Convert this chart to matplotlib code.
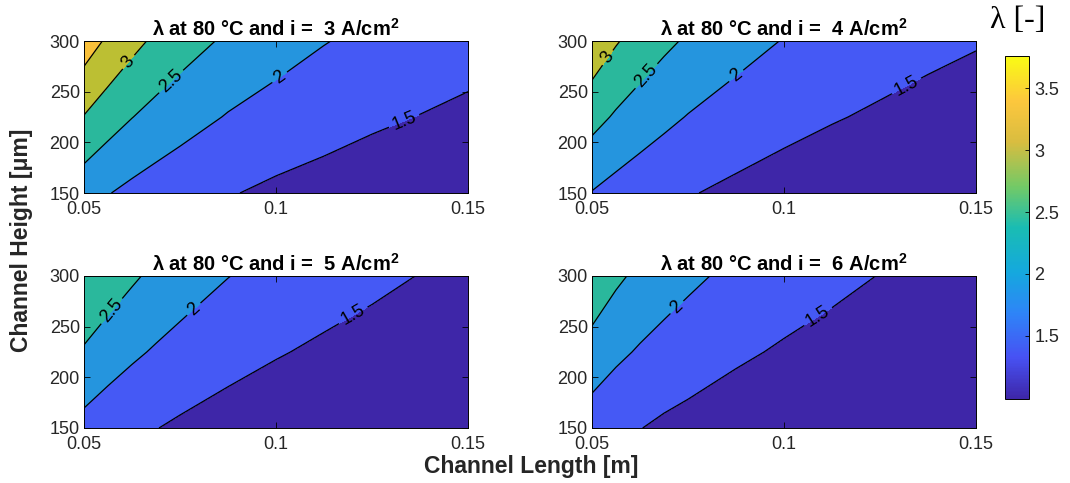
import numpy as np
import matplotlib
matplotlib.use("Agg")
import matplotlib.pyplot as plt
from matplotlib.colors import LinearSegmentedColormap, Normalize
from matplotlib.cm import ScalarMappable

plt.rcParams['font.family'] = ['Liberation Sans', 'DejaVu Sans']
plt.rcParams['mathtext.fontset'] = 'custom'
plt.rcParams['mathtext.rm'] = 'Liberation Sans'
plt.rcParams['mathtext.bf'] = 'Liberation Sans:bold'

# grid
lengths = [0.05, 0.05625, 0.0625, 0.06875, 0.075, 0.0875, 0.1, 0.1125,
           0.125, 0.1375, 0.15]                                # m
heights = [150, 225, 300]                                      # um

# lambda values, rows = heights
lam_i3 = [[2.20, 2.02, 1.88, 1.77, 1.68, 1.53, 1.41, 1.33, 1.26, 1.20, 1.15],
          [2.98, 2.72, 2.51, 2.34, 2.20, 1.97, 1.81, 1.68, 1.57, 1.49, 1.41],
          [3.76, 3.42, 3.14, 2.91, 2.72, 2.42, 2.20, 2.02, 1.88, 1.77, 1.68]]
lam_i4 = [[1.98, 1.83, 1.71, 1.61, 1.53, 1.40, 1.30, 1.22, 1.16, 1.11, 1.07],
          [2.67, 2.44, 2.26, 2.11, 1.98, 1.79, 1.64, 1.53, 1.44, 1.36, 1.30],
          [3.35, 3.04, 2.80, 2.60, 2.44, 2.18, 1.98, 1.83, 1.71, 1.61, 1.53]]
lam_i5 = [[1.84, 1.70, 1.59, 1.51, 1.43, 1.31, 1.23, 1.16, 1.10, 1.06, 1.02],
          [2.45, 2.24, 2.08, 1.95, 1.84, 1.66, 1.53, 1.43, 1.35, 1.28, 1.23],
          [2.98, 2.78, 2.57, 2.39, 2.24, 2.01, 1.84, 1.70, 1.59, 1.49, 1.43]]
lam_i6 = [[1.73, 1.60, 1.51, 1.42, 1.36, 1.25, 1.17, 1.11, 1.06, 1.02, 0.99],
          [2.32, 2.10, 1.95, 1.83, 1.73, 1.57, 1.45, 1.36, 1.28, 1.22, 1.17],
          [2.84, 2.59, 2.39, 2.23, 2.10, 1.88, 1.73, 1.60, 1.49, 1.42, 1.36]]

currents = [3, 4, 5, 6]
panels = [lam_i3, lam_i4, lam_i5, lam_i6]
line_levels = [1.5, 2, 2.5, 3, 3.5]
xticks = [0.05, 0.1, 0.15]
xticklabels = ['0.05', '0.1', '0.15']
yticks = [150, 200, 250, 300]
cbar_ticks = [1.5, 2, 2.5, 3, 3.5]

# where the inline labels sit, one list per panel
label_pos = [
    [(0.062, 278), (0.0732, 258), (0.101, 264), (0.1336, 219)],
    [(0.0539, 284), (0.0643, 265), (0.0877, 265), (0.132, 255)],
    [(0.0586, 261), (0.0794, 264), (0.1206, 258)],
    [(0.0724, 268), (0.1094, 257)],
]

# parula-like colormap for the colorbar
parula = LinearSegmentedColormap.from_list('parula', [
    (0.000, (0.242, 0.150, 0.660)),
    (0.120, (0.278, 0.320, 0.955)),
    (0.250, (0.180, 0.520, 0.970)),
    (0.370, (0.080, 0.660, 0.870)),
    (0.500, (0.100, 0.740, 0.700)),
    (0.620, (0.450, 0.790, 0.400)),
    (0.750, (0.850, 0.740, 0.250)),
    (0.870, (0.990, 0.780, 0.240)),
    (1.000, (0.977, 0.984, 0.080)),
])
band_colors = ['#3e26a8', '#4559f5', '#2595de', '#2ab89c', '#bcbf33', '#f9c03a']
fill_levels = [0.0, 1.5, 2, 2.5, 3, 3.5, 5.0]

W, H = 1070, 483
fig = plt.figure(figsize=(W / 100, H / 100), dpi=100)

boxes = [(84, 41), (592, 41), (84, 276), (592, 276)]
aw, ah = 384, 152

L, Hg = np.meshgrid(lengths, heights)
tick_gray = '#262626'

for k, (x0, y0) in enumerate(boxes):
    ax = fig.add_axes([x0 / W, 1 - (y0 + ah) / H, aw / W, ah / H])
    Z = np.array(panels[k])
    ax.contourf(L, Hg, Z, levels=fill_levels, colors=band_colors)
    cs = ax.contour(L, Hg, Z, levels=line_levels, colors='k', linewidths=0.9)
    ax.clabel(cs, inline=True, fmt='%g', fontsize=13, manual=label_pos[k],
              inline_spacing=4)
    ax.set_xlim(0.05, 0.15)
    ax.set_ylim(150, 300)
    ax.set_xticks(xticks)
    ax.set_xticklabels(xticklabels)
    ax.set_yticks(yticks)
    ax.tick_params(direction='in', length=4, width=0.6, labelsize=13,
                   labelcolor=tick_gray, top=True, right=True)
    ax.tick_params(axis='x', pad=6)
    ax.tick_params(axis='y', pad=3)
    for s in ax.spines.values():
        s.set_linewidth(0.7)
    ax.set_title(r'λ at 80 °C and i =  %d A/cm$^{\mathbf{2}}$' % currents[k],
                 fontsize=14.5, fontweight='bold', pad=4)

# colorbar
all_vals = np.concatenate([np.ravel(p) for p in panels])
norm = Normalize(vmin=all_vals.min(), vmax=all_vals.max())
cax = fig.add_axes([1005 / W, 1 - 399 / H, 24 / W, 343 / H])
cb = fig.colorbar(ScalarMappable(norm=norm, cmap=parula), cax=cax, ticks=cbar_ticks)
cb.ax.tick_params(direction='in', length=3, width=0.6, labelsize=13,
                  labelcolor=tick_gray, pad=4)
cb.ax.set_yticklabels(['%g' % t for t in cbar_ticks])
cb.outline.set_linewidth(0.7)
fig.text(1018 / W, 1 - 20 / H, 'λ [-]', ha='center', va='center', fontsize=23,
         family=['Liberation Serif', 'DejaVu Serif'])

fig.text(22 / W, 1 - 240 / H, 'Channel Height [μm]', rotation=90, ha='center',
         va='center', fontsize=16.5, fontweight='bold', color='#262626')
fig.text(531 / W, 1 - 466 / H, 'Channel Length [m]', ha='center', va='center',
         fontsize=16.5, fontweight='bold', color='#262626')

fig.savefig('out.png', dpi=100)
